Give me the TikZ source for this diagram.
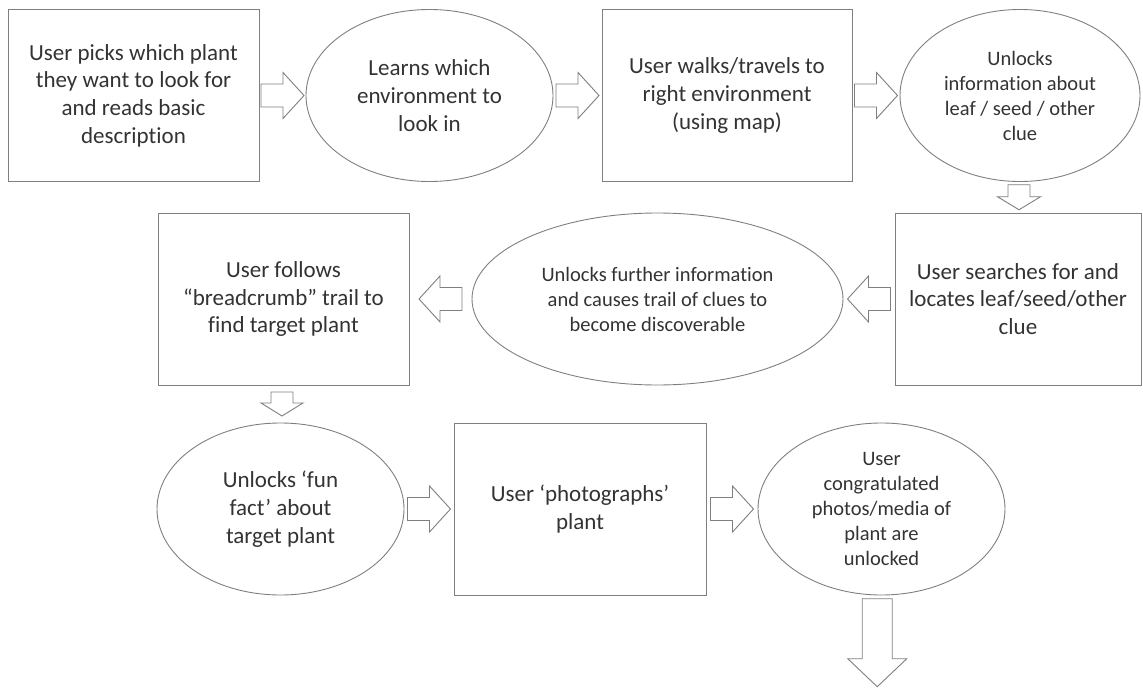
\documentclass[tikz,border=0pt]{standalone}
\usepackage{fontspec}
\setmainfont{Carlito}[Ligatures=NoCommon]
\usetikzlibrary{shapes.geometric,calc}
\definecolor{edgegray}{HTML}{7F7F7F}
\definecolor{inkgray}{HTML}{333333}
\newcommand{\bigtext}{\fontsize{23}{27.7}\selectfont}
\newcommand{\smalltext}{\fontsize{20.5}{25}\selectfont}
% block arrow centred between two anchors: from, to, length, shaft half, head half, head length
\newcommand{\fatarrow}[6]{%
  \draw[fatline] let \p1=($(#1)!.5!(#2)$), \p2=($(#2)-(#1)$),
      \n1={round(atan2(\y2,\x2)/90)*90} in
    [shift={(\p1)},rotate=\n1]
    ({-#3/2},{-#4}) -- ({#3/2-#6},{-#4}) -- ({#3/2-#6},{-#5}) -- ({#3/2},0)
    -- ({#3/2-#6},{#5}) -- ({#3/2-#6},{#4}) -- ({-#3/2},{#4}) -- cycle;}
\begin{document}
\begin{tikzpicture}[x=1pt,y=-1pt,
    box/.style={rectangle,draw=edgegray,line width=0.9pt,text=inkgray,align=center,inner sep=0pt,minimum height=172pt},
    oval/.style={ellipse,draw=edgegray,line width=0.9pt,text=inkgray,align=center,inner sep=0pt,minimum height=172pt},
    fatline/.style={draw=edgegray,line width=0.9pt,fill=white,line join=miter}]
  \useasboundingbox (0,0) rectangle (1143,690);
  % first row
  \node[box,minimum width=251pt,font=\bigtext] (pick) at (133.5,95.5) {User picks which plant\\they want to look for\\and reads basic\\description};
  \node[oval,minimum width=247pt,font=\bigtext] (learn) at (429.5,95.5) {Learns which\\environment to\\look in};
  \node[box,minimum width=250pt,font=\bigtext] (walk) at (727,95.5) {User walks/travels to\\right environment\\(using map)};
  \node[oval,minimum width=240pt,font=\smalltext] (info) at (1020,95.5) {Unlocks\\information about\\leaf / seed / other\\clue};
  % second row
  \node[box,minimum width=246pt,font=\bigtext] (search) at (1018,299) {User searches for and\\locates leaf/seed/other\\clue};
  \node[oval,minimum width=371pt,font=\smalltext] (trail) at (657.5,299) {Unlocks further information\\and causes trail of clues to\\become discoverable};
  \node[box,minimum width=251pt,font=\bigtext] (follow) at (283.5,299) {User follows\\“breadcrumb” trail to\\find target plant};
  % third row
  \node[oval,minimum width=247pt,font=\bigtext] (fact) at (280.5,509) {Unlocks ‘fun\\fact’ about\\target plant};
  \node[box,minimum width=252pt,font=\bigtext] (photo) at (580,509) {User ‘photographs’\\plant};
  \node[oval,minimum width=247pt,font=\smalltext] (done) at (881.5,509) {User\\congratulated\\photos/media of\\plant are\\unlocked};
  \coordinate (next) at (873,690);
  % block arrows
  \fatarrow{pick.east}{learn.west}{43}{11.5}{23}{21}
  \fatarrow{learn.east}{walk.west}{43}{11.5}{23}{21}
  \fatarrow{walk.east}{info.west}{43}{11.5}{23}{21}
  \fatarrow{info.south}{search.north}{25}{11}{21.5}{13}
  \fatarrow{search.west}{trail.east}{43}{11.5}{23}{21}
  \fatarrow{trail.west}{follow.east}{43}{11.5}{23}{21}
  \fatarrow{follow.south}{fact.north}{24}{11}{21}{13}
  \fatarrow{fact.east}{photo.west}{43}{11.5}{23}{21}
  \fatarrow{photo.east}{done.west}{43}{11.5}{23}{21}
  \fatarrow{done.south}{next}{88}{15}{29.5}{28}
\end{tikzpicture}
\end{document}
